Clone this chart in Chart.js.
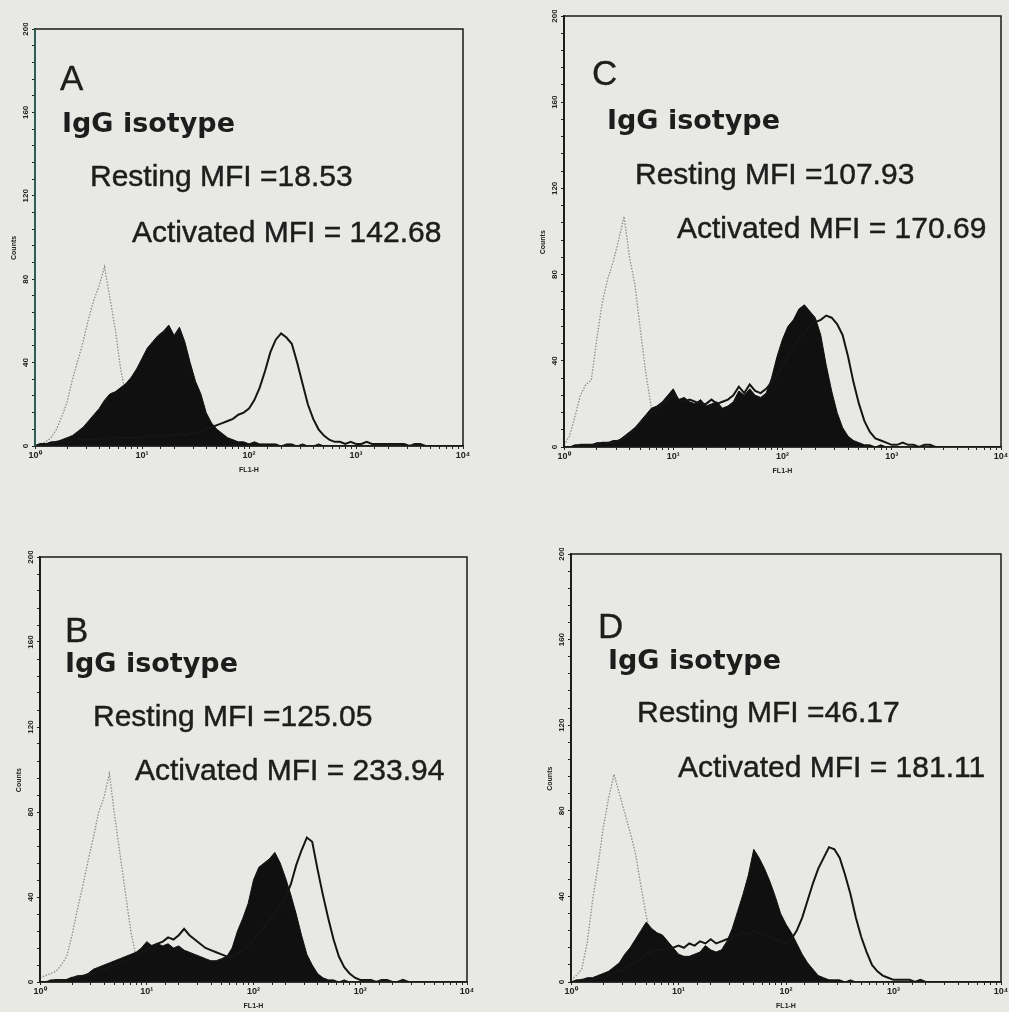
<!DOCTYPE html>
<html>
<head>
<meta charset="utf-8">
<script src="https://cdn.jsdelivr.net/npm/chart.js@4.4.1/dist/chart.umd.min.js"></script>
<style>
  html, body { margin: 0; padding: 0; }
  body { width: 1009px; height: 1012px; overflow: hidden; background: #e8e8e5; position: relative; }
  .panel { position: absolute; }
  .note { position: absolute; white-space: nowrap; color: #1d1d1d; line-height: 1; }
  .letter { font: 35px "Liberation Sans", Arial, sans-serif; -webkit-text-stroke: 0.3px #1d1d1d; }
  .igg { font: bold 27px "DejaVu Sans", Verdana, sans-serif; }
  .mfi { font: 30px "Liberation Sans", Arial, sans-serif; -webkit-text-stroke: 0.45px #1d1d1d; }
</style>
</head>
<body>
<script>
// FL1-H histogram bins: 20 channels per decade, 10^0 .. 10^4
const channels = Array.from({ length: 81 }, (_, i) => Math.pow(10, i / 20));

const decadeLabels = ['10\u2070', '10\u00b9', '10\u00b2', '10\u00b3', '10\u2074'];
const countLabels = [0, 40, 80, 120, 160, 200];

const panelLetters = ['A', 'C', 'B', 'D'];
const restingMfi = ['18.53', '107.93', '125.05', '46.17'];
const activatedMfi = ['142.68', '170.69', '233.94', '181.11'];

// panel A
const isoA = [
  0, 1, 2, 4, 8, 14, 21, 32, 41, 50, 61, 70, 77, 86, 71, 56, 37, 24, 11, 5,
  3, 2, 1, 1, 0, 0, 0, 0, 0, 0, 0, 0, 0, 0, 0, 0, 0, 0, 0, 0,
  0, 0, 0, 0, 0, 0, 0, 0, 0, 0, 0, 0, 0, 0, 0, 0, 0, 0, 0, 0,
  0, 0, 0, 0, 0, 0, 0, 0, 0, 0, 0, 0, 0, 0, 0, 0, 0, 0, 0, 0,
  0];
const restA = [
  0, 1, 1, 2, 2, 3, 4, 5, 7, 9, 12, 15, 18, 22, 25, 26, 28, 30, 33, 37,
  42, 47, 50, 53, 55, 58, 53, 57, 50, 40, 31, 25, 16, 11, 8, 6, 4, 3, 2, 2,
  1, 2, 1, 1, 1, 1, 0, 1, 1, 0, 1, 0, 0, 1, 0, 0, 0, 0, 0, 0,
  0, 0, 0, 0, 0, 0, 0, 0, 0, 0, 0, 0, 0, 0, 0, 0, 0, 0, 0, 0,
  0];
const actA = [
  0, 1, 1, 1, 2, 2, 2, 2, 3, 3, 3, 3, 3, 4, 3, 4, 4, 4, 4, 4,
  4, 5, 4, 5, 5, 5, 5, 6, 5, 6, 6, 7, 8, 9, 10, 11, 12, 13, 15, 16,
  18, 22, 28, 36, 45, 51, 54, 52, 49, 40, 30, 20, 13, 8, 5, 3, 2, 2, 1, 2,
  1, 1, 2, 1, 1, 1, 1, 1, 1, 1, 0, 1, 1, 0, 0, 0, 0, 0, 0, 0,
  0];

// panel C
const isoC = [
  1, 5, 14, 24, 29, 31, 50, 67, 78, 86, 96, 107, 88, 75, 54, 34, 18, 8, 3, 2,
  1, 1, 1, 0, 1, 0, 0, 0, 0, 0, 0, 0, 0, 0, 0, 0, 0, 0, 0, 0,
  0, 0, 0, 0, 0, 0, 0, 0, 0, 0, 0, 0, 0, 0, 0, 0, 0, 0, 0, 0,
  0, 0, 0, 0, 0, 0, 0, 0, 0, 0, 0, 0, 0, 0, 0, 0, 0, 0, 0, 0,
  0];
const restC = [
  0, 0, 1, 1, 1, 1, 2, 2, 2, 3, 3, 5, 7, 9, 12, 15, 18, 19, 21, 24,
  27, 22, 23, 21, 20, 22, 19, 20, 21, 18, 19, 21, 26, 24, 27, 24, 23, 25, 32, 42,
  50, 56, 59, 64, 66, 63, 60, 52, 38, 26, 16, 9, 5, 3, 2, 1, 1, 0, 1, 0,
  0, 0, 0, 0, 0, 0, 0, 0, 0, 0, 0, 0, 0, 0, 0, 0, 0, 0, 0, 0,
  0];
const actC = [
  0, 0, 0, 1, 1, 1, 1, 2, 2, 2, 3, 4, 6, 8, 11, 14, 16, 18, 20, 22,
  24, 22, 21, 22, 21, 20, 20, 22, 20, 21, 22, 24, 28, 25, 29, 26, 25, 27, 30, 33,
  38, 42, 46, 50, 53, 56, 58, 59, 61, 60, 57, 52, 42, 30, 20, 12, 7, 4, 3, 2,
  1, 1, 2, 1, 1, 0, 1, 1, 0, 0, 0, 0, 0, 0, 0, 0, 0, 0, 0, 0,
  0];

// panel B
const isoB = [
  2, 3, 4, 5, 8, 12, 22, 34, 45, 57, 68, 80, 87, 98, 78, 60, 42, 24, 12, 5,
  3, 2, 1, 1, 1, 0, 0, 0, 0, 0, 0, 0, 0, 0, 0, 0, 0, 0, 0, 0,
  0, 0, 0, 0, 0, 0, 0, 0, 0, 0, 0, 0, 0, 0, 0, 0, 0, 0, 0, 0,
  0, 0, 0, 0, 0, 0, 0, 0, 0, 0, 0, 0, 0, 0, 0, 0, 0, 0, 0, 0,
  0];
const restB = [
  0, 0, 1, 1, 1, 1, 2, 3, 3, 4, 6, 7, 8, 9, 10, 11, 12, 13, 14, 16,
  19, 17, 18, 17, 18, 16, 17, 15, 14, 13, 12, 11, 10, 10, 11, 12, 16, 24, 30, 37,
  48, 54, 56, 58, 61, 56, 49, 41, 32, 22, 13, 8, 4, 2, 1, 1, 0, 1, 0, 0,
  0, 0, 0, 0, 0, 0, 0, 0, 0, 0, 0, 0, 0, 0, 0, 0, 0, 0, 0, 0,
  0];
const actB = [
  0, 0, 0, 1, 1, 1, 2, 2, 3, 3, 4, 5, 6, 7, 8, 9, 10, 11, 12, 14,
  15, 17, 18, 19, 21, 20, 22, 25, 22, 20, 18, 16, 15, 14, 13, 12, 12, 13, 15, 17,
  20, 23, 26, 29, 33, 36, 40, 46, 55, 62, 68, 66, 53, 41, 30, 20, 12, 7, 4, 2,
  1, 1, 1, 0, 1, 1, 0, 0, 1, 0, 0, 0, 0, 0, 0, 0, 0, 0, 0, 0,
  0];

// panel D
const isoD = [
  1, 3, 6, 18, 38, 54, 72, 86, 97, 88, 79, 70, 60, 45, 31, 20, 11, 6, 4, 2,
  2, 1, 1, 1, 0, 1, 0, 0, 0, 0, 0, 0, 0, 0, 0, 0, 0, 0, 0, 0,
  0, 0, 0, 0, 0, 0, 0, 0, 0, 0, 0, 0, 0, 0, 0, 0, 0, 0, 0, 0,
  0, 0, 0, 0, 0, 0, 0, 0, 0, 0, 0, 0, 0, 0, 0, 0, 0, 0, 0, 0,
  0];
const restD = [
  0, 1, 1, 2, 2, 3, 4, 5, 7, 9, 13, 16, 20, 24, 28, 25, 23, 22, 19, 16,
  13, 12, 12, 13, 14, 17, 15, 14, 15, 19, 25, 33, 41, 50, 62, 58, 53, 47, 40, 32,
  27, 23, 18, 13, 9, 6, 3, 2, 1, 1, 1, 0, 1, 0, 0, 0, 0, 0, 0, 0,
  0, 0, 0, 0, 0, 0, 0, 0, 0, 0, 0, 0, 0, 0, 0, 0, 0, 0, 0, 0,
  0];
const actD = [
  0, 0, 1, 1, 1, 2, 2, 3, 4, 5, 6, 8, 9, 11, 13, 14, 15, 15, 16, 16,
  17, 16, 18, 17, 19, 18, 20, 18, 19, 20, 21, 22, 23, 22, 24, 23, 22, 21, 20, 19,
  18, 20, 24, 30, 38, 46, 53, 58, 63, 62, 58, 50, 41, 30, 21, 14, 8, 5, 3, 2,
  1, 1, 1, 1, 0, 1, 0, 0, 0, 0, 0, 0, 0, 0, 0, 0, 0, 0, 0, 0,
  0];

// plot boxes on the page and text anchors (left, baseline)
const layout = [
  { box: { l: 35, t: 29, r: 463, b: 446 }, axisColor: '#2e6b62',
    letter: [60, 88], igg: [62, 130], rest: [90, 184], act: [132, 240] },
  { box: { l: 564, t: 16, r: 1001, b: 447 }, axisColor: '#1a1a1a',
    letter: [592, 83], igg: [607, 127], rest: [635, 182], act: [677, 236] },
  { box: { l: 40, t: 557, r: 467, b: 982 }, axisColor: '#1a1a1a',
    letter: [65, 640], igg: [65, 670], rest: [93, 724], act: [135, 778] },
  { box: { l: 571, t: 554, r: 1001, b: 982 }, axisColor: '#1a1a1a',
    letter: [598, 636], igg: [608, 667], rest: [637, 720], act: [678, 775] }
];
const series = [
  [isoA, restA, actA],
  [isoC, restC, actC],
  [isoB, restB, actB],
  [isoD, restD, actD]
];

const PAD_TOP = 6, PAD_RIGHT = 12, Y_AXIS_W = 30, X_AXIS_H = 28;

const toPoints = arr => arr.map((v, i) => ({ x: channels[i], y: v }));

// frame, rotated count labels and the "Counts" title
const panelDecor = {
  id: 'panelDecor',
  afterDraw(chart, args, opts) {
    const { ctx, chartArea: a, scales: { y } } = chart;
    ctx.save();
    ctx.strokeStyle = '#1a1a1a';
    ctx.lineWidth = 1.5;
    ctx.strokeRect(a.left, a.top, a.right - a.left, a.bottom - a.top);
    ctx.strokeStyle = opts.axisColor;
    ctx.beginPath();
    ctx.moveTo(a.left, a.top);
    ctx.lineTo(a.left, a.bottom);
    ctx.stroke();

    ctx.fillStyle = '#222';
    ctx.textAlign = 'center';
    ctx.textBaseline = 'middle';
    ctx.font = 'bold 8px "Liberation Sans", Arial';
    countLabels.forEach(v => {
      ctx.save();
      ctx.translate(a.left - 9, y.getPixelForValue(v));
      ctx.rotate(-Math.PI / 2);
      ctx.fillText(String(v), 0, 0);
      ctx.restore();
    });
    ctx.font = 'bold 7px "Liberation Sans", Arial';
    ctx.translate(a.left - 21, y.getPixelForValue(95));
    ctx.rotate(-Math.PI / 2);
    ctx.fillText('Counts', 0, 0);
    ctx.restore();
  }
};

function makePanel(idx) {
  const lay = layout[idx];
  const [iso, rest, act] = series[idx];
  const { l, t, r, b } = lay.box;

  const wrap = document.createElement('div');
  wrap.className = 'panel';
  wrap.style.left = (l - Y_AXIS_W) + 'px';
  wrap.style.top = (t - PAD_TOP) + 'px';
  wrap.style.width = (r - l + Y_AXIS_W + PAD_RIGHT) + 'px';
  wrap.style.height = (b - t + PAD_TOP + X_AXIS_H) + 'px';
  const canvas = document.createElement('canvas');
  wrap.appendChild(canvas);
  document.body.appendChild(wrap);

  new Chart(canvas, {
    type: 'line',
    data: {
      datasets: [
        { label: 'IgG isotype', data: toPoints(iso), order: 3,
          borderColor: '#8d8d8d', borderWidth: 1.3, borderDash: [1.5, 1.5],
          pointRadius: 0, tension: 0, fill: false },
        { label: 'Resting', data: toPoints(rest), order: 2,
          borderColor: '#101010', backgroundColor: '#101010', borderWidth: 1,
          pointRadius: 0, tension: 0, fill: 'origin' },
        { label: 'Activated', data: toPoints(act), order: 1,
          borderColor: '#151515', borderWidth: 2,
          pointRadius: 0, tension: 0, fill: false }
      ]
    },
    options: {
      responsive: true,
      maintainAspectRatio: false,
      animation: false,
      layout: { padding: { top: PAD_TOP, right: PAD_RIGHT, left: 0, bottom: 0 } },
      plugins: {
        legend: { display: false },
        tooltip: { enabled: false },
        panelDecor: { axisColor: lay.axisColor }
      },
      scales: {
        x: {
          type: 'logarithmic', min: 1, max: 10000,
          afterFit: s => { s.height = X_AXIS_H; },
          grid: { drawOnChartArea: false, drawTicks: true, tickLength: 3, color: '#222' },
          border: { color: '#1a1a1a', width: 1.5 },
          ticks: {
            autoSkip: false, maxRotation: 0, minRotation: 0, padding: 1, color: '#222',
            font: { size: 9, weight: 'bold', family: '"Liberation Sans", Arial' },
            callback: v => {
              const e = Math.log10(v);
              return Math.abs(e - Math.round(e)) < 1e-6 ? decadeLabels[Math.round(e)] : '';
            }
          },
          title: { display: true, text: 'FL1-H', color: '#222', padding: 0,
                   font: { size: 7, weight: 'bold', family: '"Liberation Sans", Arial' } }
        },
        y: {
          min: 0, max: 200,
          afterFit: s => { s.width = Y_AXIS_W; },
          grid: { drawOnChartArea: false, drawTicks: true, tickLength: 3, color: '#222' },
          border: { color: lay.axisColor, width: 1.5 },
          ticks: { stepSize: 8, display: false }
        }
      }
    },
    plugins: [panelDecor]
  });

  // panel annotations
  const notes = [
    ['letter', panelLetters[idx], lay.letter, 35],
    ['igg', 'IgG isotype', lay.igg, 27],
    ['mfi', 'Resting MFI =' + restingMfi[idx], lay.rest, 30],
    ['mfi', 'Activated MFI = ' + activatedMfi[idx], lay.act, 30]
  ];
  notes.forEach(([cls, text, pos, size]) => {
    const d = document.createElement('div');
    d.className = 'note ' + cls;
    d.textContent = text;
    d.style.left = pos[0] + 'px';
    d.style.top = (pos[1] - 0.846 * size) + 'px';
    document.body.appendChild(d);
  });
}

[0, 1, 2, 3].forEach(makePanel);
</script>
</body>
</html>
